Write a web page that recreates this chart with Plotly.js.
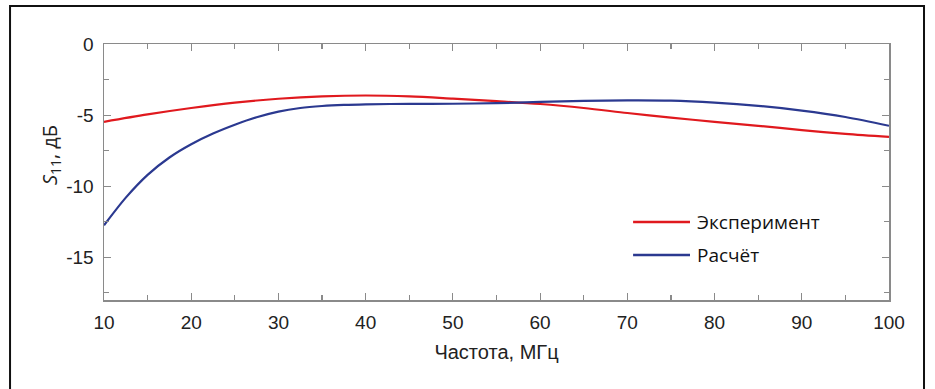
<!DOCTYPE html>
<html><head><meta charset="utf-8">
<script src="https://cdn.plot.ly/plotly-3.0.1.min.js"></script>
<style>html,body{margin:0;padding:0;background:#fff;}#chart{width:935px;height:389px;}</style>
</head><body><div id="chart"></div>
<script>
var freqExp = [10, 15, 20, 25, 30, 35, 40, 45, 50, 55, 60, 65, 70, 75, 80, 85, 90, 95, 100];
var s11Exp  = [-5.47, -4.95, -4.5, -4.12, -3.85, -3.68, -3.62, -3.68, -3.84, -4.02, -4.22, -4.5, -4.85, -5.18, -5.47, -5.75, -6.05, -6.32, -6.53];
var freqCalc = [10, 12.5, 15, 17.5, 20, 22.5, 25, 27.5, 30, 32.5, 35, 37.5, 40, 45, 50, 55, 60, 65, 70, 75, 80, 85, 90, 95, 100];
var s11Calc  = [-12.75, -10.8, -9.2, -7.98, -7.05, -6.3, -5.68, -5.15, -4.75, -4.5, -4.36, -4.28, -4.24, -4.21, -4.2, -4.16, -4.07, -4.0, -3.96, -3.98, -4.12, -4.35, -4.68, -5.13, -5.75];
var seriesNames = ['Эксперимент', 'Расчёт'];
var seriesColors = ['#e0191e', '#2b3990'];
var xTicks = [10, 20, 30, 40, 50, 60, 70, 80, 90, 100];
var xTickText = ['10', '20', '30', '40', '50', '60', '70', '80', '90', '100'];
var yTicks = [0, -5, -10, -15];
var yTickText = ['0', '-5', '-10', '-15'];
var yTitle = '<i>S</i><sub>11</sub>, дБ';
var xTitle = 'Частота, МГц';

var traces = [
  {x: freqExp, y: s11Exp, name: seriesNames[0], mode: 'lines', line: {color: seriesColors[0], width: 2.2, shape: 'spline', smoothing: 0.9}},
  {x: freqCalc, y: s11Calc, name: seriesNames[1], mode: 'lines', line: {color: seriesColors[1], width: 2.2, shape: 'spline', smoothing: 0.9}}
];
var tickFont = {family: 'Arial', size: 19, color: '#222'};
var axisCommon = {
  showgrid: false, zeroline: false, showline: true, linecolor: '#8a8a8a', linewidth: 1.5,
  mirror: 'ticks', ticks: 'inside', ticklen: 7, tickcolor: '#8a8a8a', tickwidth: 1.2,
  tickfont: tickFont
};
var legX0 = 0.674, legX1 = 0.7465, legTxt = 0.7529, legY = [0.3047, 0.1758];
var shapes = [
  {type: 'rect', xref: 'paper', yref: 'paper', x0: -0.1197, x1: 1.0446, y0: -0.6, y1: 1.148,
   line: {color: '#111', width: 2}, fillcolor: 'rgba(0,0,0,0)', layer: 'below'}
];
var annotations = [
  {xref: 'paper', yref: 'paper', x: -0.0688, y: 0.566, xanchor: 'center', yanchor: 'middle',
   showarrow: false, textangle: -90, text: yTitle,
   font: {family: 'Open Sans, sans-serif', size: 20, color: '#222'}}
];
for (var i = 0; i < seriesNames.length; i++) {
  shapes.push({type: 'line', xref: 'paper', yref: 'paper', x0: legX0, x1: legX1, y0: legY[i], y1: legY[i],
               line: {color: seriesColors[i], width: 2.5}});
  annotations.push({xref: 'paper', yref: 'paper', x: legTxt, y: legY[i], xanchor: 'left', yanchor: 'middle',
                    showarrow: false, text: seriesNames[i],
                    font: {family: 'Open Sans, Calibri, sans-serif', size: 19, color: '#111'}});
}
var layout = {
  width: 935, height: 389,
  margin: {l: 104, r: 46, t: 44, b: 89},
  paper_bgcolor: '#fff', plot_bgcolor: '#fff',
  showlegend: false,
  xaxis: Object.assign({}, axisCommon, {
    range: [10, 100], tickvals: xTicks, ticktext: xTickText, ticklabelstandoff: 5,
    minor: {dtick: 5, tick0: 10, ticks: 'inside', ticklen: 5, tickcolor: '#8a8a8a'},
    title: {text: xTitle, standoff: 12, font: {family: 'Liberation Sans Narrow, Arial Narrow, sans-serif', size: 20, color: '#222'}}
  }),
  yaxis: Object.assign({}, axisCommon, {
    range: [-18, 0], tickvals: yTicks, ticktext: yTickText, ticklabelstandoff: 5,
    minor: {dtick: 2.5, tick0: 0, ticks: 'inside', ticklen: 5, tickcolor: '#8a8a8a'}
  }),
  shapes: shapes,
  annotations: annotations
};
Plotly.newPlot('chart', traces, layout, {staticPlot: true});
</script></body></html>
